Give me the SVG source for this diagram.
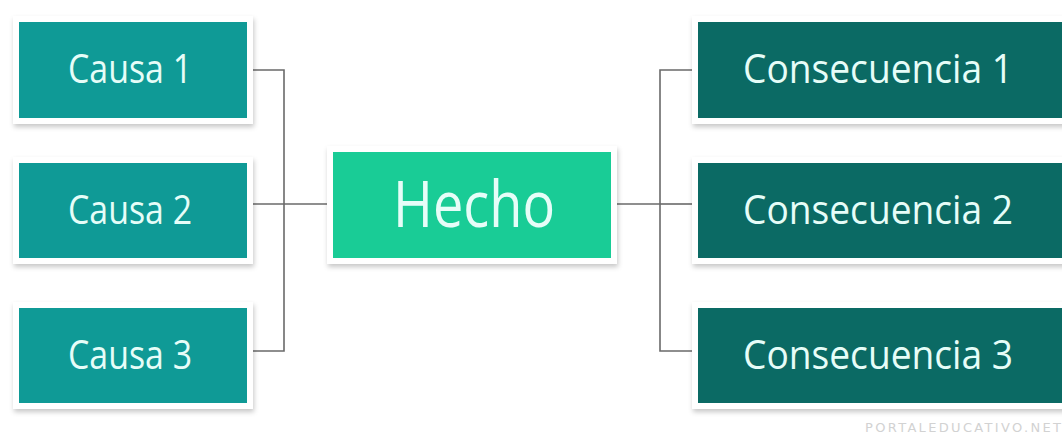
<svg xmlns="http://www.w3.org/2000/svg" width="1062" height="439" viewBox="0 0 1062 439">
  <defs>
    <filter id="sh" x="-10%" y="-20%" width="120%" height="150%">
      <feDropShadow dx="1" dy="3" stdDeviation="2.5" flood-color="#000" flood-opacity="0.22"/>
    </filter>
  </defs>
  <style>
    .frame { fill: #ffffff; filter: url(#sh); }
    .causa { fill: #0f9a96; }
    .hecho { fill: #19cc96; }
    .cons { fill: #0b6a64; }
    .lbl { font-family: "Open Sans", "Noto Sans", sans-serif; fill: #e6fdf8; font-size: 40px; }
    .big { font-size: 64px; }
    .wire { fill: none; stroke: #6a6a6a; stroke-width: 1.6; }
    .wm { font-family: "DejaVu Sans", sans-serif; font-size: 13px; fill: #d2d2d2; }
  </style>
  <rect width="1062" height="439" fill="#ffffff"/>

  <g id="connectors">
    <path class="wire" d="M253 70 H284 V351 H253"/>
    <path class="wire" d="M253 204 H327"/>
    <path class="wire" d="M617 204 H660"/>
    <path class="wire" d="M692 70 H660 V351 H692"/>
    <path class="wire" d="M660 204 H692"/>
  </g>

  <g id="causa1">
    <rect class="frame" x="13" y="16" width="240" height="108"/>
    <rect class="causa" x="19" y="22" width="228" height="96"/>
    <text class="lbl" x="68" y="83" textLength="124" lengthAdjust="spacingAndGlyphs">Causa 1</text>
  </g>
  <g id="causa2">
    <rect class="frame" x="13" y="157" width="240" height="107"/>
    <rect class="causa" x="19" y="163" width="228" height="95"/>
    <text class="lbl" x="68" y="224" textLength="124" lengthAdjust="spacingAndGlyphs">Causa 2</text>
  </g>
  <g id="causa3">
    <rect class="frame" x="13" y="302" width="240" height="107"/>
    <rect class="causa" x="19" y="308" width="228" height="95"/>
    <text class="lbl" x="68" y="369" textLength="124" lengthAdjust="spacingAndGlyphs">Causa 3</text>
  </g>

  <g id="hecho">
    <rect class="frame" x="327" y="146" width="290" height="118"/>
    <rect class="hecho" x="333" y="152" width="278" height="106"/>
    <text class="lbl big" x="393" y="227" textLength="162" lengthAdjust="spacingAndGlyphs">Hecho</text>
  </g>

  <g id="consecuencia1">
    <rect class="frame" x="692" y="16" width="380" height="108"/>
    <rect class="cons" x="698" y="22" width="370" height="96"/>
    <text class="lbl" x="743" y="83" textLength="270" lengthAdjust="spacingAndGlyphs">Consecuencia 1</text>
  </g>
  <g id="consecuencia2">
    <rect class="frame" x="692" y="157" width="380" height="107"/>
    <rect class="cons" x="698" y="163" width="370" height="95"/>
    <text class="lbl" x="743" y="224" textLength="270" lengthAdjust="spacingAndGlyphs">Consecuencia 2</text>
  </g>
  <g id="consecuencia3">
    <rect class="frame" x="692" y="302" width="380" height="107"/>
    <rect class="cons" x="698" y="308" width="370" height="95"/>
    <text class="lbl" x="743" y="369" textLength="270" lengthAdjust="spacingAndGlyphs">Consecuencia 3</text>
  </g>

  <text class="wm" x="865" y="432" textLength="196" lengthAdjust="spacing">PORTALEDUCATIVO.NET</text>
</svg>
